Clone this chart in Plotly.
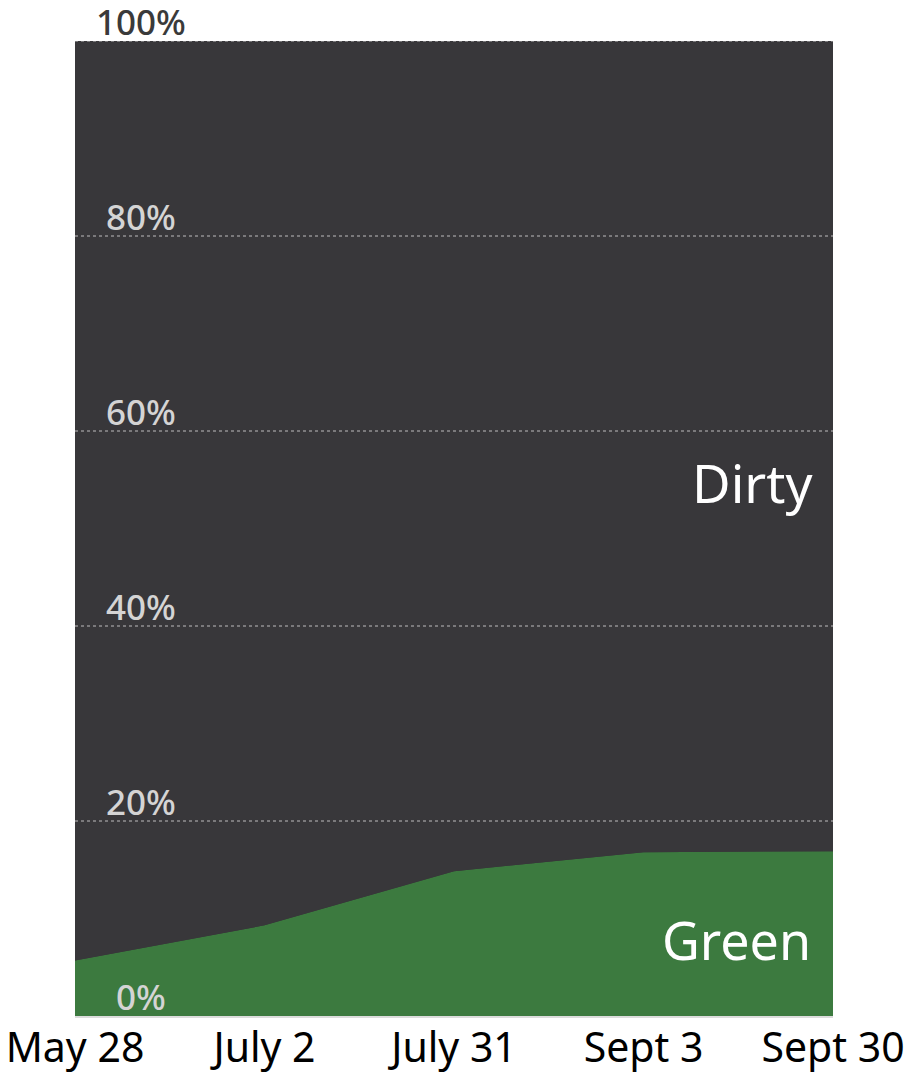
import plotly.graph_objects as go

dates = ["May 28", "July 2", "July 31", "Sept 3", "Sept 30"]
green = [5.7, 9.3, 14.85, 16.8, 16.9]
dirty = [100 - g for g in green]
y_ticks = [0, 20, 40, 60, 80, 100]
y_tick_labels = ["0%", "20%", "40%", "60%", "80%", "100%"]

FONT = "Noto Sans"

fig = go.Figure()
fig.add_trace(go.Scatter(x=dates, y=green, stackgroup="s", mode="none",
                         fillcolor="#3c7a3f", name="Green", hoverinfo="skip"))
fig.add_trace(go.Scatter(x=dates, y=dirty, stackgroup="s", mode="none",
                         fillcolor="#38373a", name="Dirty", hoverinfo="skip"))

# dashed gridlines above the area
for v in y_ticks[1:]:
    fig.add_shape(type="line", xref="paper", yref="y", x0=0, x1=1, y0=v, y1=v,
                  line=dict(color="#bdbdbd", width=1, dash="dot"), layer="above")

# y tick labels inside the plot
for v, t in zip(y_ticks, y_tick_labels):
    fig.add_annotation(xref="paper", yref="y", x=0.087, y=v, text=t,
                       showarrow=False, xanchor="center", yanchor="bottom",
                       yshift=-6,
                       font=dict(family=FONT, size=35, weight=500,
                                 color="#3a3a3a" if v == 100 else "#d4d4d4"))

# series labels
fig.add_annotation(xref="paper", yref="y", x=0.976, y=54.7, text="Dirty",
                   showarrow=False, xanchor="right", yanchor="middle",
                   font=dict(family=FONT, size=53, color="white"))
fig.add_annotation(xref="paper", yref="y", x=0.974, y=7.8, text="Green",
                   showarrow=False, xanchor="right", yanchor="middle",
                   font=dict(family=FONT, size=52, color="white"))

fig.update_xaxes(type="category", range=[0, 4], showgrid=False, zeroline=False,
                 showline=True, linecolor="#dcdcdc", linewidth=2, automargin=False,
                 tickfont=dict(family=FONT, size=41, color="black"),
                 ticks="", ticklabelstandoff=-5)
fig.update_yaxes(range=[0, 100], showgrid=False, zeroline=False, showticklabels=False,
                 showline=False, automargin=False)

fig.update_layout(width=907, height=1074, margin=dict(l=75, r=74, t=41, b=58),
                  paper_bgcolor="white", plot_bgcolor="#38373a", showlegend=False)

fig.write_html("out.html")
